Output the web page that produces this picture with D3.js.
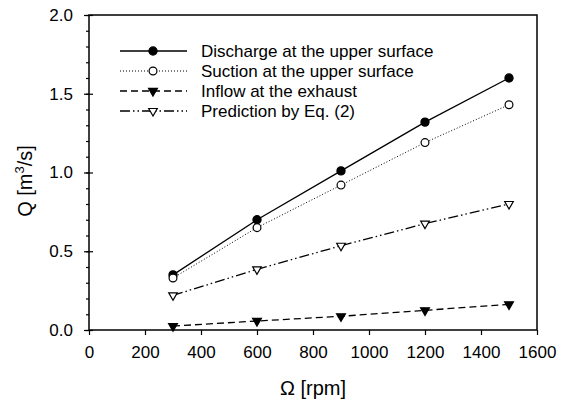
<!DOCTYPE html>
<html>
<head>
<meta charset="utf-8">
<script src="https://cdn.jsdelivr.net/npm/d3@7"></script>
<style>
  body { margin: 0; background: #fff; }
  text { font-family: "Liberation Sans", Arial, sans-serif; fill: #000; }
</style>
</head>
<body>
<div id="container"></div>
<script>
const rpm = [300, 600, 900, 1200, 1500];
const discharge = [0.35, 0.70, 1.01, 1.32, 1.60];
const suction = [0.33, 0.65, 0.92, 1.19, 1.43];
const inflow = [0.025, 0.057, 0.087, 0.125, 0.163];
const prediction = [0.22, 0.385, 0.535, 0.675, 0.80];
const xTicks = [0, 200, 400, 600, 800, 1000, 1200, 1400, 1600];
const yTicks = [0, 0.5, 1.0, 1.5, 2.0];
const seriesNames = ["Discharge at the upper surface", "Suction at the upper surface",
    "Inflow at the exhaust", "Prediction by Eq. (2)"];

const W = 570, H = 404;
const plot = {left: 89, right: 537, top: 15, bottom: 330};

const x = d3.scaleLinear().domain([0, 1600]).range([plot.left, plot.right]);
const y = d3.scaleLinear().domain([0, 2]).range([plot.bottom, plot.top]);

const series = [
    {name: seriesNames[0], values: discharge, dash: null, symbol: d3.symbolCircle, size: 52, fill: "#000", flip: false},
    {name: seriesNames[1], values: suction, dash: "1,2", symbol: d3.symbolCircle, size: 48, fill: "#fff", flip: false},
    {name: seriesNames[2], values: inflow, dash: "7,4", symbol: d3.symbolTriangle, size: 34, fill: "#000", flip: true},
    {name: seriesNames[3], values: prediction, dash: "10,3,1.5,3,1.5,3", symbol: d3.symbolTriangle, size: 32, fill: "#fff", flip: true},
];

const svg = d3.select("#container").append("svg")
    .attr("width", W)
    .attr("height", H)

// minor y ticks
svg.append("g")
    .attr("transform", `translate(${plot.left},0)`)
    .call(d3.axisLeft(y).tickValues(d3.range(0, 21).map(d => d / 10)).tickSize(3).tickFormat(""))
    .call(g => g.select(".domain").remove());

// major y ticks, crossing the axis
svg.append("g")
    .attr("transform", `translate(${plot.left},0)`)
    .call(d3.axisRight(y).tickValues(yTicks).tickSize(4).tickFormat(""))
    .call(g => g.select(".domain").remove());
svg.append("g")
    .attr("class", "yaxis")
    .attr("transform", `translate(${plot.left},0)`)
    .call(d3.axisLeft(y).tickValues(yTicks).tickSize(5).tickPadding(11).tickFormat(d3.format(".1f")))
    .call(g => g.select(".domain").remove());

svg.append("g")
    .attr("class", "xaxis")
    .attr("transform", `translate(0,${plot.bottom})`)
    .call(d3.axisBottom(x).tickValues(xTicks).tickSize(5).tickPadding(11).tickFormat(d3.format("d")))
    .call(g => g.select(".domain").remove());

svg.selectAll(".yaxis text, .xaxis text")
    .style("font-size", "17px")
    .style("font-family", '"Liberation Sans", Arial, sans-serif');
svg.selectAll(".tick line").attr("stroke", "#000").attr("stroke-width", 1.2);

// frame
svg.append("rect")
    .attr("x", plot.left)
    .attr("y", plot.top)
    .attr("width", plot.right - plot.left)
    .attr("height", plot.bottom - plot.top)
    .attr("fill", "none")
    .attr("stroke", "#000")
    .attr("stroke-width", 1.5);

// axis titles
svg.append("text")
    .attr("x", (plot.left + plot.right) / 2)
    .attr("y", 395)
    .attr("text-anchor", "middle")
    .style("font-size", "20px")
    .text("Ω [rpm]");

const yTitle = svg.append("text")
    .attr("transform", "translate(32,181) rotate(-90)")
    .attr("text-anchor", "middle")
    .style("font-size", "20px");
yTitle.append("tspan").text("Q [m");
yTitle.append("tspan").attr("dy", -8).style("font-size", "13px").text("3");
yTitle.append("tspan").attr("dy", 8).text("/s]");

const line = d3.line()
    .x((d, i) => x(rpm[i]))
    .y(d => y(d));

function marker(sel, s) {
    sel.attr("d", d3.symbol().type(s.symbol).size(s.size))
        .attr("fill", s.fill)
        .attr("stroke", "#000")
        .attr("stroke-width", 1.2);
}

series.forEach(s => {
    svg.append("path")
        .datum(s.values)
        .attr("d", line)
        .attr("fill", "none")
        .attr("stroke", "#000")
        .attr("stroke-width", s.dash === "1,2" ? 1 : 1.3)
        .attr("stroke-dasharray", s.dash);
    svg.selectAll(null)
        .data(s.values)
        .enter()
        .append("path")
        .attr("transform", (d, i) => `translate(${x(rpm[i])},${y(d)})` + (s.flip ? " rotate(180)" : ""))
        .call(marker, s);
});

// legend
const legend = svg.append("g");
series.forEach((s, i) => {
    const ly = 51 + i * 20;
    legend.append("line")
        .attr("x1", 120).attr("x2", 187)
        .attr("y1", ly).attr("y2", ly)
        .attr("stroke", "#000")
        .attr("stroke-width", s.dash === "1,2" ? 1 : 1.3)
        .attr("stroke-dasharray", s.dash);
    legend.append("path")
        .attr("transform", `translate(153,${ly})` + (s.flip ? " rotate(180)" : ""))
        .call(marker, s);
    legend.append("text")
        .attr("x", 201)
        .attr("y", ly)
        .attr("dy", "0.36em")
        .style("font-size", "17px")
        .text(s.name);
});
</script>
</body>
</html>
